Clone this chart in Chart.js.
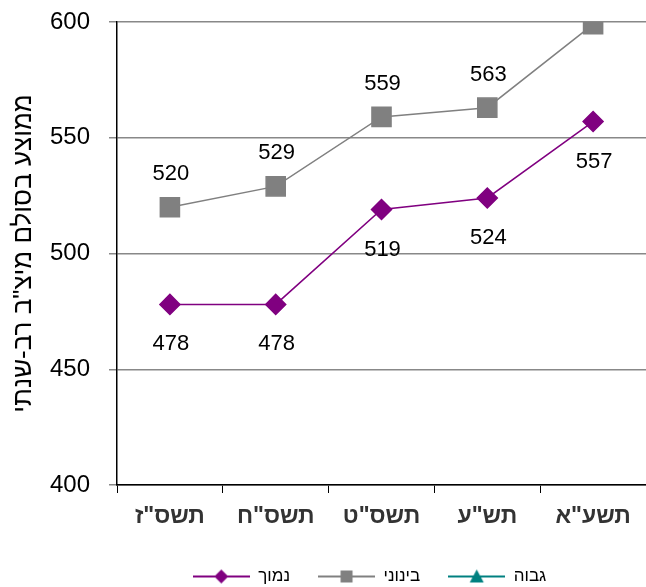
<!DOCTYPE html>
<html>
<head>
<meta charset="utf-8">
<script src="https://cdn.jsdelivr.net/npm/chart.js@4"></script>
<style>
html,body{margin:0;padding:0;background:#fff}
#wrap{width:646px;height:587px}
</style>
</head>
<body>
<div id="wrap"><canvas id="canvas" width="646" height="587"></canvas></div>
<script>
let years=['תשס"ז','תשס"ח','תשס"ט','תש"ע','תשע"א']
let low=[478,478,519,524,557]
let mid=[520,529,559,563,599]
let high=[null,null,null,null,null]
let yTicks=[400,450,500,550,600]
let canvas=document.getElementById('canvas')
let font='"Liberation Sans", Arial, sans-serif'

// legend marker: line through the point symbol
function legendIcon(color,shape) {
    let c=document.createElement('canvas')
    c.width=57
    c.height=16
    let g=c.getContext('2d')
    g.strokeStyle=color
    g.lineWidth=2
    g.beginPath()
    g.moveTo(0,8)
    g.lineTo(57,8)
    g.stroke()
    g.fillStyle=color
    g.beginPath()
    if (shape=='diamond') {
        g.moveTo(28.5,1);g.lineTo(35.5,8);g.lineTo(28.5,15);g.lineTo(21.5,8)
    } else if (shape=='square') {
        g.rect(22.5,2,12,12)
    } else {
        g.moveTo(28.5,1);g.lineTo(35.5,14);g.lineTo(21.5,14)
    }
    g.closePath()
    g.fill()
    return c
}
let icons=[legendIcon('#800080','diamond'),legendIcon('#808080','square'),legendIcon('#008080','triangle')]

let valueLabels={
    id:'valueLabels',
    afterDatasetsDraw(chart) {
        let ctx=chart.ctx
        ctx.save()
        ctx.font='22px '+font
        ctx.fillStyle='#000'
        ctx.textAlign='center'
        ctx.textBaseline='middle'
        chart.data.datasets.forEach((ds,i) => {
            let meta=chart.getDatasetMeta(i)
            meta.data.forEach((pt,j) => {
                let v=ds.data[j]
                if (v==null) return
                let dy=ds.labelPos=='above' ? -33 : 40
                ctx.fillText(String(v),pt.x+1,pt.y+dy)
            })
        })
        ctx.restore()
    }
}

let legendShift={
    id:'legendShift',
    afterLayout(chart) {
        chart.legend.left-=12
        chart.legend.right-=12
    }
}

new Chart(canvas,{
    type:'line',
    data:{
        labels:years,
        datasets:[
            {label:'נמוך',data:low,borderColor:'#800080',backgroundColor:'#800080',borderWidth:1.5,
             pointStyle:'rectRot',pointRadius:10,pointHoverRadius:10,labelPos:'below',tension:0},
            {label:'בינוני',data:mid,borderColor:'#808080',backgroundColor:'#808080',borderWidth:1.5,
             pointStyle:'rect',pointRadius:13.5,pointHoverRadius:13.5,labelPos:'above',tension:0},
            {label:'גבוה',data:high,borderColor:'#008080',backgroundColor:'#008080',borderWidth:1.5,
             pointStyle:'triangle',pointRadius:8,labelPos:'above',tension:0}
        ]
    },
    options:{
        responsive:false,
        animation:false,
        layout:{autoPadding:false,padding:{left:8,top:0,right:0,bottom:-8}},
        scales:{
            x:{
                offset:true,
                grid:{offset:true,drawOnChartArea:false,drawTicks:true,tickLength:8,color:'#000'},
                border:{color:'#000',width:1.5},
                ticks:{color:'#333',padding:10,font:{family:font,size:23,weight:'bold'}},
                afterFit:function (scale) {
                    scale.height=55
                }
            },
            y:{
                min:400,
                max:600,
                afterBuildTicks:function (scale) {
                    scale.ticks=yTicks.map(v => ({value:v}))
                },
                afterFit:function (scale) {
                    scale.width=109
                    scale.paddingTop=22
                    scale.paddingBottom=0
                },
                grid:{color:'#888',lineWidth:1.5,tickLength:8},
                border:{color:'#000',width:1.5},
                ticks:{color:'#000',padding:19,font:{family:font,size:24}},
                title:{display:true,text:'ממוצע בסולם מיצ"ב רב-שנתי',color:'#000',
                       padding:{top:0,bottom:0},font:{family:font,size:26}}
            }
        },
        plugins:{
            legend:{
                position:'bottom',
                fullSize:false,
                labels:{
                    usePointStyle:true,
                    pointStyleWidth:57,
                    padding:28,
                    color:'#000',
                    font:{family:font,size:17},
                    generateLabels:function (chart) {
                        let items=Chart.defaults.plugins.legend.labels.generateLabels(chart)
                        items.forEach((it,i) => {it.pointStyle=icons[i]})
                        return items
                    }
                }
            },
            tooltip:{enabled:false}
        }
    },
    plugins:[valueLabels,legendShift]
})
</script>
</body>
</html>
